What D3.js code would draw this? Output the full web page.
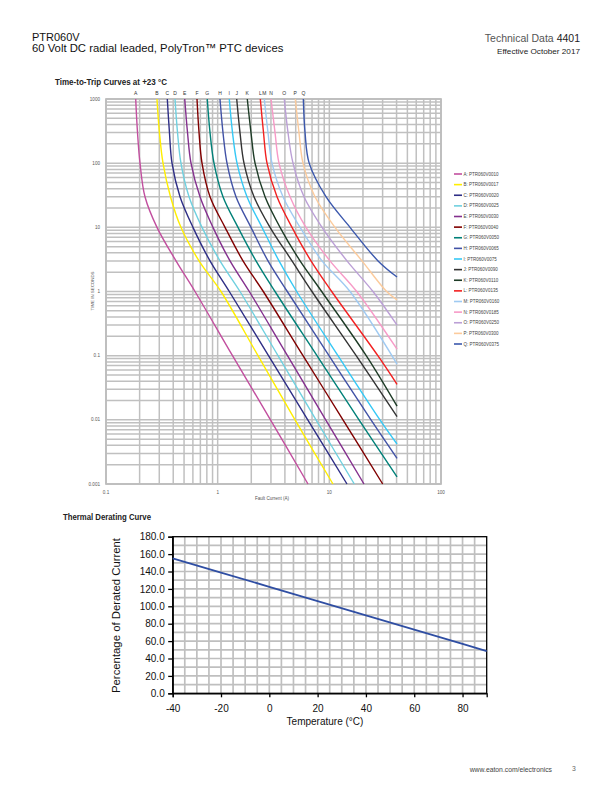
<!DOCTYPE html>
<html><head><meta charset="utf-8">
<script src="https://cdn.jsdelivr.net/npm/d3@7/dist/d3.min.js"></script>
<style>body{margin:0;background:#fff}svg{display:block}</style>
</head><body>
<svg id="page" width="612" height="792"></svg>
<script>
// ---------- Time-to-trip data: [fault current (A), time (s)] ----------
const curveLetters = ["A","B","C","D","E","F","G","H","I","J","K","L","M","N","O","P","Q"];
const partNumbers = ["PTR060V0010","PTR060V0017","PTR060V0020","PTR060V0025","PTR060V0030","PTR060V0040","PTR060V0050","PTR060V0065","PTR060V0075","PTR060V0090","PTR060V0110","PTR060V0135","PTR060V0160","PTR060V0185","PTR060V0250","PTR060V0300","PTR060V0375"];
const curveColors = ["#c24f9f","#ffee00","#2e2e86","#6fd0df","#84308e","#800000","#008078","#4152a6","#35c8f5","#333333","#1d3b26","#f22020","#9fcaf2","#f79ac7","#bb9fd6","#fccb9c","#3b58ad"];

const curveA = [[0.1845,1000],[0.1915,300],[0.2016,100],[0.2234,30],[0.2862,10],[0.4235,3],[0.6266,1],[1.358,0.1],[2.972,0.01],[6.44,0.001]];
const curveB = [[0.286,1000],[0.301,300],[0.324,100],[0.378,30],[0.469,10],[0.681,3],[1.071,1],[2.297,0.1],[4.93,0.01],[10.78,0.001]];
const curveC = [[0.354,1000],[0.370,300],[0.390,100],[0.460,30],[0.601,10],[0.854,3],[1.271,1],[2.852,0.1],[6.41,0.01],[14.39,0.001]];
const curveD = [[0.415,1000],[0.437,300],[0.469,100],[0.554,30],[0.724,10],[1.049,3],[1.585,1],[3.47,0.1],[7.60,0.01],[16.73,0.001]];
const curveE = [[0.507,1000],[0.537,300],[0.577,100],[0.695,30],[0.908,10],[1.290,3],[1.920,1],[4.22,0.1],[9.28,0.01],[20.43,0.001]];
const curveF = [[0.653,1000],[0.681,300],[0.724,100],[0.854,30],[1.164,10],[1.686,3],[2.562,1],[5.81,0.1],[13.25,0.01],[30.05,0.001]];
const curveG = [[0.807,1000],[0.854,300],[0.927,100],[1.116,30],[1.521,10],[2.204,3],[3.263,1],[7.75,0.1],[18.44,0.01],[40.4,0.00129]];
const curveH = [[1.049,1000],[1.116,300],[1.212,100],[1.459,30],[1.988,10],[2.823,3],[4.203,1],[9.93,0.1],[23.61,0.01],[40.4,0.0025]];
const curveI = [[1.271,1000],[1.358,300],[1.490,100],[1.831,30],[2.495,10],[3.542,3],[5.10,1],[11.95,0.1],[28.4,0.01],[40.4,0.0042]];
const curveJ = [[1.481,1000],[1.585,300],[1.721,100],[2.115,30],[2.944,10],[4.63,3],[6.99,1],[17.4,0.1],[40.4,0.0112]];
const curveK = [[1.842,1000],[1.988,300],[2.161,100],[2.656,30],[3.619,10],[5.47,3],[8.54,1],[21.4,0.1],[40.4,0.0163]];
const curveL = [[2.409,1000],[2.573,300],[2.766,100],[3.399,30],[4.63,10],[6.85,3],[10.50,1],[27.2,0.1],[40.4,0.0358]];
const curveM = [[2.616,1000],[2.823,300],[3.066,100],[3.846,30],[5.47,10],[8.60,3],[15.32,1],[40.4,0.074]];
const curveN = [[3.005,1000],[3.264,300],[3.542,100],[4.448,30],[6.18,10],[10.14,3],[17.58,1],[40.4,0.126]];
const curveO = [[3.951,1000],[4.264,300],[4.727,100],[5.93,30],[8.60,10],[14.39,3],[24.6,1],[40.4,0.30]];
const curveP = [[4.956,1000],[5.35,300],[5.81,100],[7.44,30],[11.24,10],[19.61,3],[32.6,1],[40.4,0.74]];
const curveQ = [[5.85,1000],[6.06,300],[6.60,100],[9.33,30],[15.32,10],[27.3,3],[40.4,1.68]];
const allCurves = [curveA,curveB,curveC,curveD,curveE,curveF,curveG,curveH,curveI,curveJ,curveK,curveL,curveM,curveN,curveO,curveP,curveQ];

const currentTickLabels = ["0.1","1","10","100"];
const currentTickValues = [0.1,1,10,100];
const timeTickLabels = ["1000","100","10","1","0.1","0.01","0.001"];
const timeTickValues = [1000,100,10,1,0.1,0.01,0.001];

// ---------- Thermal derating data ----------
const deratingTemps = [-40,-20,0,20,40,60,80,90];
const deratingPercent = [155.2,138.8,122.4,106.0,89.6,73.2,56.8,48.6];
const deratingYTicks = [0,20,40,60,80,100,120,140,160,180];
const deratingXTicks = [-40,-20,0,20,40,60,80];

const svg = d3.select("#page");
const sans = "'Liberation Sans', Arial, sans-serif";

// ---------- Header / footer ----------
svg.append("text").attr("x",32).attr("y",41).attr("font-family",sans).attr("font-size",11).attr("fill","#111").text("PTR060V");
svg.append("text").attr("x",32).attr("y",52).attr("font-family",sans).attr("font-size",11.3).attr("fill","#111").text("60 Volt DC radial leaded, PolyTron\u2122 PTC devices");
const td = svg.append("text").attr("x",580).attr("y",42).attr("text-anchor","end").attr("font-family",sans).attr("font-size",10.5).attr("fill","#555");
td.append("tspan").text("Technical Data ");
td.append("tspan").attr("fill","#222").text("4401");
svg.append("text").attr("x",580).attr("y",54).attr("text-anchor","end").attr("font-family",sans).attr("font-size",7.6)
  .attr("textLength",83).attr("lengthAdjust","spacingAndGlyphs").attr("fill","#222").text("Effective October 2017");
svg.append("text").attr("x",552).attr("y",772).attr("text-anchor","end").attr("font-family",sans).attr("font-size",6.8).attr("fill","#444").text("www.eaton.com/electronics");
svg.append("text").attr("x",574).attr("y",771).attr("text-anchor","middle").attr("font-family",sans).attr("font-size",6.8).attr("fill","#666").text("3");

// ---------- Time-to-trip chart ----------
svg.append("text").attr("x",55).attr("y",85).attr("font-family",sans).attr("font-size",9).attr("font-weight","bold")
  .attr("textLength",112).attr("lengthAdjust","spacingAndGlyphs").attr("fill","#222").text("Time-to-Trip Curves at +23 \u00B0C");

const x = d3.scaleLog().domain([0.1,100]).range([106,441]);
const y = d3.scaleLog().domain([0.001,1000]).range([484,99]);
const g = svg.append("g");
const gridColor = "#c0c0c0";

g.selectAll("line.vg").data(x.ticks()).join("line").attr("class","vg")
  .attr("x1",d=>x(d)).attr("x2",d=>x(d)).attr("y1",y(1000)).attr("y2",y(0.001))
  .attr("stroke",gridColor).attr("stroke-width",1.5);
g.selectAll("line.hg").data(y.ticks()).join("line").attr("class","hg")
  .attr("x1",x(0.1)).attr("x2",x(100)).attr("y1",d=>y(d)).attr("y2",d=>y(d))
  .attr("stroke",gridColor).attr("stroke-width",1.5);
g.append("rect").attr("x",x(0.1)).attr("y",y(1000)).attr("width",x(100)-x(0.1)).attr("height",y(0.001)-y(1000))
  .attr("fill","none").attr("stroke","#bdbdbd").attr("stroke-width",1.7);

g.selectAll("text.xt").data(currentTickValues).join("text").attr("class","xt")
  .attr("x",d=>x(d)).attr("y",494).attr("text-anchor","middle").attr("font-family",sans).attr("font-size",4.6).attr("fill","#555")
  .text((d,i)=>currentTickLabels[i]);
g.selectAll("text.yt").data(timeTickValues).join("text").attr("class","yt")
  .attr("x",100).attr("y",d=>y(d)+1.6).attr("text-anchor","end").attr("font-family",sans).attr("font-size",4.6).attr("fill","#555")
  .text((d,i)=>timeTickLabels[i]);
g.append("text").attr("x",272).attr("y",500).attr("text-anchor","middle").attr("font-family",sans).attr("font-size",4.6).attr("fill","#555").text("Fault Current (A)");
g.append("text").attr("transform","translate(93.5,291) rotate(-90)").attr("text-anchor","middle").attr("font-family",sans).attr("font-size",4.4).attr("fill","#555").text("TIME IN SECONDS");

const line = d3.line().x(d=>x(d[0])).y(d=>y(d[1])).curve(d3.curveCatmullRom.alpha(0.5));
allCurves.forEach((c,i)=>{
  g.append("path").datum(c).attr("d",line).attr("fill","none").attr("stroke",curveColors[i]).attr("stroke-width",1.4);
  g.append("text").attr("x",x(c[0][0])).attr("y",94.5).attr("text-anchor","middle").attr("font-family",sans).attr("font-size",5).attr("fill","#333").text(curveLetters[i]);
});

// legend
const lg = svg.append("g");
curveLetters.forEach((L,i)=>{
  const yy = 174 + i*10.625;
  lg.append("line").attr("x1",454).attr("x2",462).attr("y1",yy).attr("y2",yy).attr("stroke",curveColors[i]).attr("stroke-width",1.6);
  lg.append("text").attr("x",463.5).attr("y",yy+1.5).attr("font-family",sans).attr("font-size",4.5).attr("fill","#444").text(L+": "+partNumbers[i]);
});

// ---------- Thermal derating chart ----------
svg.append("text").attr("x",63).attr("y",520).attr("font-family",sans).attr("font-size",9).attr("font-weight","bold")
  .attr("textLength",88).attr("lengthAdjust","spacingAndGlyphs").attr("fill","#222").text("Thermal Derating Curve");
const xt = d3.scaleLinear().domain([-40,90]).range([172.7,486.7]);
const yt = d3.scaleLinear().domain([0,180]).range([693.3,536.7]);
const g2 = svg.append("g");
g2.selectAll("line.vg2").data(d3.range(-35,90,5)).join("line").attr("class","vg2")
  .attr("x1",d=>xt(d)).attr("x2",d=>xt(d)).attr("y1",yt(0)).attr("y2",yt(180)).attr("stroke","#bfbfbf").attr("stroke-width",1.7);
g2.selectAll("line.hg2").data(d3.range(10,180,10)).join("line").attr("class","hg2")
  .attr("x1",xt(-40)).attr("x2",xt(90)).attr("y1",d=>yt(d)).attr("y2",d=>yt(d)).attr("stroke","#bfbfbf").attr("stroke-width",1.7);
g2.append("rect").attr("x",xt(-40)).attr("y",yt(180)).attr("width",xt(90)-xt(-40)).attr("height",yt(0)-yt(180))
  .attr("fill","none").attr("stroke","#000").attr("stroke-width",1.3);

const yAxis = d3.axisLeft(yt).tickValues(deratingYTicks).tickFormat(d3.format(".1f")).tickSize(4.5).tickPadding(3.5);
const ya = g2.append("g").attr("transform",`translate(${xt(-40)},0)`).call(yAxis);
const xAxis = d3.axisBottom(xt).tickValues(deratingXTicks).tickFormat(d=>String(d)).tickSize(4).tickPadding(8);
const xa = g2.append("g").attr("transform",`translate(0,${yt(0)})`).call(xAxis);
[ya,xa].forEach(a=>{
  a.select(".domain").attr("stroke","#000").attr("stroke-width",1.3);
  a.selectAll(".tick line").attr("stroke","#000").attr("stroke-width",1.3);
  a.selectAll("text").attr("font-family",sans).attr("font-size",10).attr("fill","#111");
});
g2.append("text").attr("x",325).attr("y",725).attr("text-anchor","middle").attr("font-family",sans).attr("font-size",10).attr("fill","#111").text("Temperature (\u00B0C)");
g2.append("text").attr("transform","translate(119.5,615.5) rotate(-90)").attr("text-anchor","middle").attr("font-family",sans).attr("font-size",10.8)
  .attr("textLength",155).attr("lengthAdjust","spacingAndGlyphs").attr("fill","#111").text("Percentage of Derated  Current");

const dline = d3.line().x((d,i)=>xt(deratingTemps[i])).y(d=>yt(d));
g2.append("path").datum(deratingPercent).attr("d",dline).attr("fill","none").attr("stroke","#2f4ea3").attr("stroke-width",1.8);
</script>
</body></html>
